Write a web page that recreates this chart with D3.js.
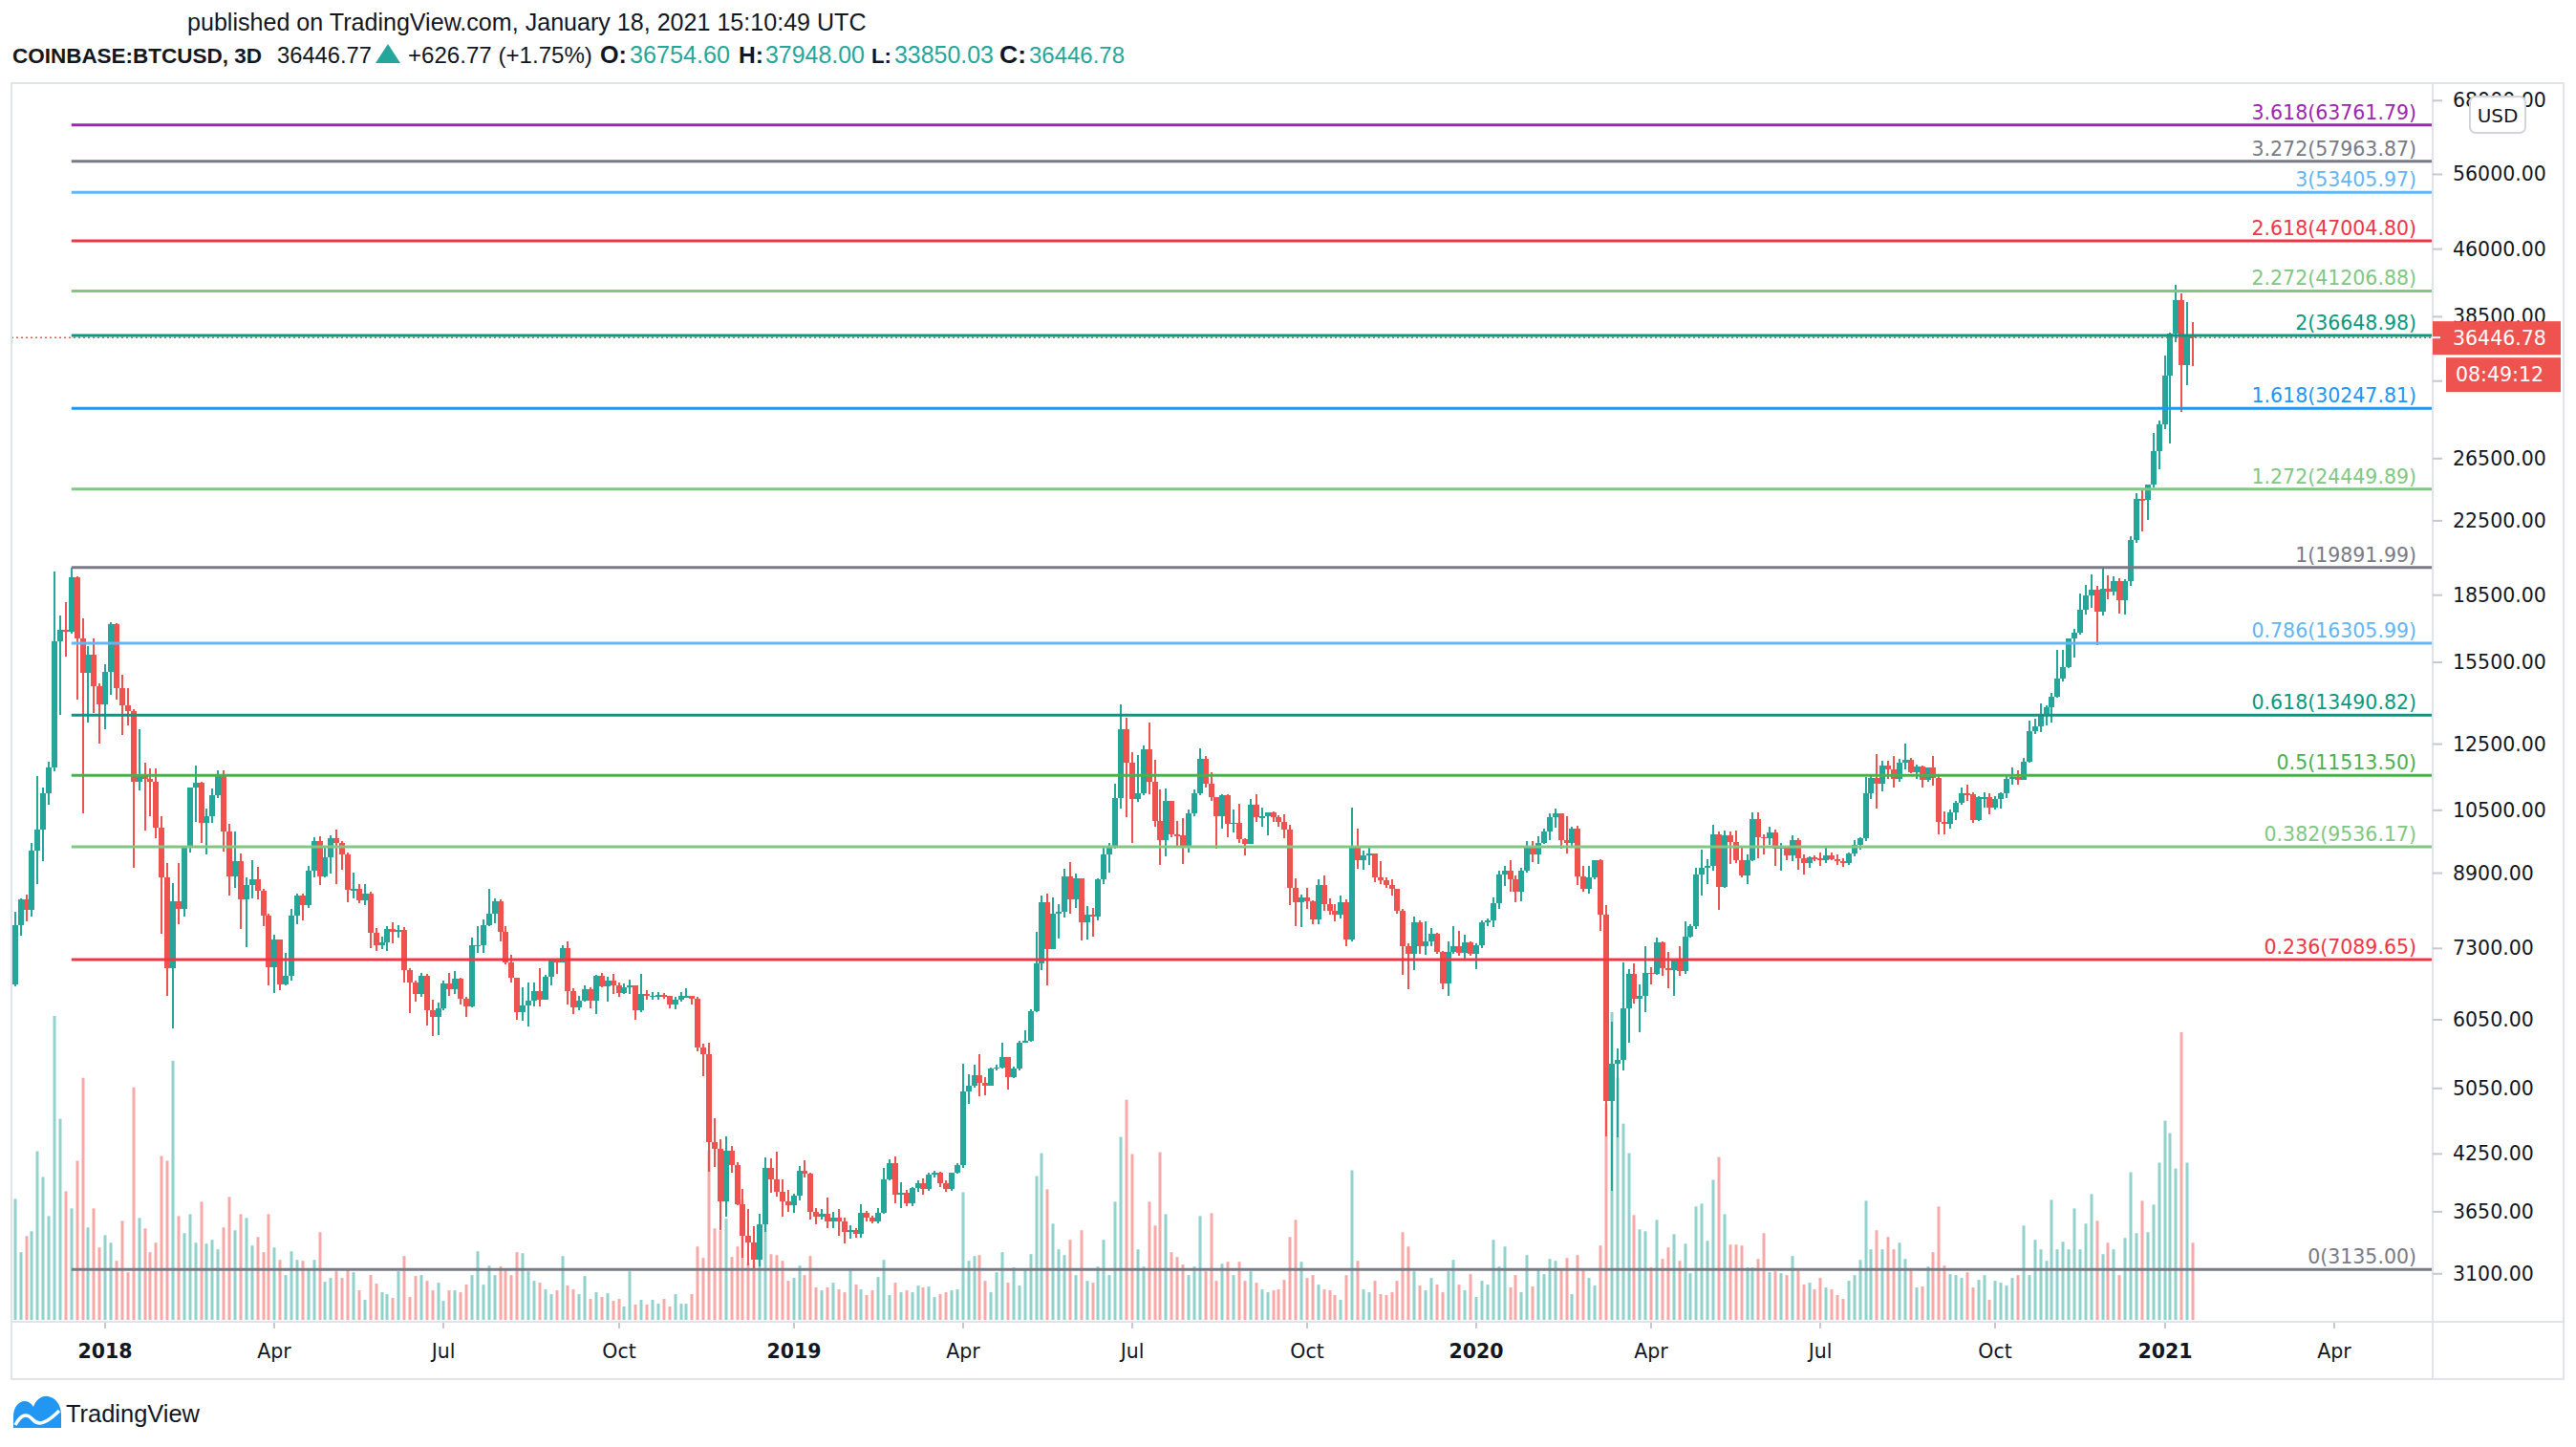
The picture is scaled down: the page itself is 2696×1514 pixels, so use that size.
<!DOCTYPE html>
<html><head><meta charset="utf-8">
<script src="https://cdn.jsdelivr.net/npm/d3@7/dist/d3.min.js"></script>
<style>html,body{margin:0;padding:0;background:#fff;}svg{display:block}</style>
</head><body>
<svg id="c" width="2696" height="1514"></svg>
<script>
// ---------------- DATA (COINBASE:BTCUSD, 3D bars) ----------------
const firstBarDate = "2017-11-15";   // start of first 3-day bar
const barDays = 3;

const opens = [6640,7760,8315,8070,9450,9975,10970,11750,16390,16900,
16780,19385,16490,15080,15820,14570,13890,15120,17140,14480,
13830,13630,11330,11560,11410,11330,10020,8800,6930,8270,
8100,9510,11145,11290,10170,10330,10930,11500,9930,8820,
9190,8300,8630,8760,8490,7960,6950,7480,6640,6800,
7950,8390,8190,8950,9680,8820,9270,9760,9630,9350,
8510,8530,8280,8430,7610,7370,7420,7676,7630,7656,
6895,6668,6473,6790,6209,6096,6236,6655,6557,6733,
6400,6273,7361,7370,7760,8000,8270,7626,7042,6752,
6178,6290,6369,6523,6382,6779,7089,7042,7305,6529,
6256,6369,6557,6369,6790,6612,6712,6626,6491,6584,
6620,6209,6473,6437,6448,6455,6437,6304,6382,6437,
6440,6390,5624,5530,4380,4310,3750,4290,4130,3720,
3430,3370,3220,3530,4100,3970,3845,3755,3716,3812,
4070,4030,3645,3604,3634,3555,3598,3560,3460,3482,
3445,3640,3596,3560,3640,3970,4150,3822,3838,3730,
3883,3932,3877,4025,4040,3935,3880,4040,4130,5013,
5089,5232,5130,5090,5320,5340,5485,5200,5320,5700,
5725,6190,7012,8245,7295,8000,8040,8830,8315,8790,
7825,7973,7935,8750,9356,9550,10840,12990,11900,10810,
10990,12330,11330,10210,9705,10770,9852,9830,9530,10420,
10975,12030,11265,10860,10350,10920,10130,10170,9740,9620,
10650,10300,10330,10440,10300,10180,9990,8560,8240,8340,
8270,7870,8620,8205,8060,7975,8250,7470,9530,9200,
9330,9370,8810,8740,8620,8530,8050,7350,7190,7810,
7335,7445,7580,7230,6650,7240,7350,7220,7420,7200,
7370,7810,7860,8220,8860,8965,8760,8480,8950,9530,
9360,9630,9940,10300,10420,9700,9630,10010,8830,8540,
8810,9200,7970,4890,5384,5450,6230,6820,6390,6450,
6850,6820,7420,6930,6900,7070,6870,7535,7745,8860,
9036,9070,9850,8580,9840,9670,9210,8840,9210,10250,
9790,9750,9910,9490,9530,9320,9710,9250,9140,9270,
9250,9210,9330,9240,9180,9150,9380,9575,9754,10977,
11425,11251,11820,11699,11402,11905,12002,11603,11784,11379,
11759,11425,10183,10131,10447,10720,10977,10943,10236,10865,
10870,10588,10831,10988,11402,11460,11379,11942,12937,13099,
13480,13785,14175,14864,15325,16505,16758,17822,18471,18760,
17731,18798,18665,19190,18250,19190,21374,23834,23760,24755,
27013,28967,33001,36836,40230,33929,36754.60];

const highs = [8030,8330,8410,9640,11500,11150,11940,19700,17530,18170,
19891.99,19450,17410,16160,16490,14680,15420,17220,17200,14990,
14500,13700,13010,11910,11730,11710,10330,9150,8680,9150,
9550,11160,11810,11330,10550,11110,11680,11680,10140,9930,
9370,8800,9200,9050,8540,8000,7560,7480,7210,8100,
8440,8440,9060,9790,9810,9550,9830,9975,9680,9390,
8910,8650,8650,8480,7700,7530,7740,7820,7770,7720,
6925,6700,6850,6820,6380,6330,6700,6838,6870,6760,
6420,7510,7740,7880,8540,8330,8300,7740,7170,6760,
6584,6668,6668,6925,6810,7100,7110,7370,7440,6570,
6440,6630,6584,6810,6850,6780,6830,6668,6660,6720,
6620,6830,6540,6500,6510,6490,6448,6430,6510,6570,
6450,6420,5680,5700,4670,4420,4450,4340,4160,3880,
3680,3510,3630,4210,4200,4276,3970,3870,3830,4120,
4180,4040,3690,3680,3790,3650,3678,3590,3520,3500,
3725,3660,3610,3690,4096,4190,4220,3940,3870,3900,
3960,3980,4040,4070,4060,3960,4050,4150,5385,5240,
5380,5520,5200,5330,5380,5700,5490,5350,5720,5880,
6220,7620,8400,8430,8350,8200,9000,9160,8880,8790,
8160,8130,8790,9510,9630,11270,13880,13400,12230,12130,
12440,13230,12000,11090,11115,10770,10220,10290,10530,11090,
12370,12100,11620,10860,10950,10950,10510,10680,9760,10810,
10950,10580,10440,10480,10370,10390,10100,8770,8410,8570,
8290,8750,8850,8330,8200,8390,8300,10567,10000,9450,
9530,9380,9183,8800,8760,8540,8100,7400,7930,7860,
7830,7700,7600,7250,7440,7735,7650,7565,7440,7400,
7850,7890,8340,8960,9070,9210,8840,9030,9680,9680,
9800,10010,10420,10560,10430,10340,10050,10080,9060,9060,
9210,9230,8180,6020,5610,7040,6920,7010,6640,7340,
6950,7510,7430,7230,7080,7340,7830,7780,9020,9470,
9230,10110,9930,9950,9940,9960,9560,9360,10440,10440,
9860,10050,9980,9630,9560,9820,9760,9350,9300,9330,
9400,9520,9400,9350,9250,9400,9700,9774,11460,11496,
12187,11977,11977,12126,12027,12505,12064,11856,11820,11759,
12126,11520,10469,10534,10776,11136,11228,11000,10887,11000,
10988,10887,11022,11520,11759,11675,12064,13302,13370,13928,
13857,14293,16002,16002,16505,16932,18570,19014,19548,18957,
19811,19500,19447,19350,19290,21608,24175,24378,24755,28348,
29325,34739,36946,41876,40940,40030,37948.00];

const lows = [6600,7540,7830,7930,8650,9190,10650,11650,13510,15720,
16700,14045,10420,13240,13560,12520,12990,14230,14050,12800,
13130,9030,11070,9960,10330,9760,7580,6440,5910,7790,
7930,9390,10190,9640,9350,10170,10850,9430,8390,8560,
7690,7330,8330,8310,7740,6620,6490,6540,6620,6700,
7790,7850,8130,8800,8630,8800,8890,8650,8990,8240,
8320,8220,8190,7300,7260,7280,7260,7400,7510,6680,
6160,6350,6420,5955,5800,5807,6200,6450,6473,6304,
6096,6250,7220,7210,7740,7800,7440,7000,6668,6050,
6030,5940,6273,6260,6380,6620,6820,7030,6304,6140,
6209,6350,6236,6140,6590,6350,6473,6420,6473,6480,
6055,6178,6382,6382,6382,6390,6236,6219,6340,6420,
6304,5568,5220,4060,4110,3480,3600,4050,3710,3230,
3170,3135,3160,3460,3840,3800,3600,3650,3640,3760,
3990,3580,3530,3580,3500,3500,3430,3360,3400,3410,
3410,3560,3540,3540,3630,3960,3730,3690,3700,3700,
3850,3820,3860,3990,3900,3850,3860,4030,4100,4850,
5060,4950,4960,5080,5290,5320,5040,5190,5300,5690,
5710,6180,6900,6630,7290,7490,7920,8000,8130,7460,
7470,7530,7850,8650,8920,9500,10560,10300,9630,10740,
10940,10950,10050,9090,9300,9780,9520,9110,9400,10330,
10930,11160,10750,9500,10000,9770,9900,9630,9330,9600,
10180,10060,9830,10180,10050,9760,8180,7740,7720,8090,
7790,7780,8060,7980,7840,7900,7350,7440,9000,8990,
9100,8700,8640,8560,8400,7990,6810,6560,6890,7190,
7180,7340,7190,6560,6450,7190,7160,7090,7160,6920,
7300,7750,7730,8100,8600,8480,8250,8270,8920,9160,
9110,9610,9720,10030,9500,9380,9550,8620,8480,8440,
8750,7650,4450,3860,4445,5300,5690,6310,5860,6170,
6640,6810,6800,6580,6440,6800,6820,7510,7680,8400,
8640,8960,8080,8560,9120,9150,8800,8640,9190,9250,
9340,9580,9060,8960,9200,9180,8990,8860,9030,9180,
9060,9150,9200,9100,9050,9100,9300,9477,9674,10830,
10555,11034,11402,11136,11309,11699,11579,11402,11136,11309,
11193,9845,9845,10007,10236,10643,10776,10162,10204,10588,
10394,10534,10555,10854,11228,11228,11379,11905,12831,12897,
13139,13234,14117,14743,15278,15679,16672,17585,17914,16200,
17549,18320,18471,17640,17585,18957,21254,21885,22572,24580,
25792,28671,27575,36011,29993,32164,33850.03];

const closes = [7760,8315,8070,9450,9975,10970,11750,16390,16900,16780,
19385,16490,15080,15820,14570,13890,15120,17140,14480,13830,
13630,11330,11560,11410,11330,10020,8800,6930,8270,8100,
9510,11145,11290,10170,10330,10930,11500,9930,8820,9190,
8300,8630,8760,8490,7960,6950,7480,6640,6800,7950,
8390,8190,8950,9680,8820,9270,9760,9630,9350,8510,
8530,8280,8430,7610,7370,7420,7676,7630,7656,6895,
6668,6473,6790,6209,6096,6236,6655,6557,6733,6400,
6273,7361,7370,7760,8000,8270,7626,7042,6752,6178,
6290,6369,6523,6382,6779,7089,7042,7305,6529,6256,
6369,6557,6369,6790,6612,6712,6626,6491,6584,6620,
6209,6473,6437,6448,6455,6437,6304,6382,6437,6440,
6390,5624,5530,4380,4310,3750,4290,4130,3720,3430,
3370,3220,3530,4100,3970,3845,3755,3716,3812,4070,
4030,3645,3604,3634,3555,3598,3560,3460,3482,3445,
3640,3596,3560,3640,3970,4150,3822,3838,3730,3883,
3932,3877,4025,4040,3935,3880,4040,4130,5013,5089,
5232,5130,5090,5320,5340,5485,5200,5320,5700,5725,
6190,7012,8245,7295,8000,8040,8830,8315,8790,7825,
7973,7935,8750,9356,9550,10840,12990,11900,10810,10990,
12330,11330,10210,9705,10770,9852,9830,9530,10420,10975,
12030,11265,10860,10350,10920,10130,10170,9740,9620,10650,
10300,10330,10440,10300,10180,9990,8560,8240,8340,8270,
7870,8620,8205,8060,7975,8250,7470,9530,9200,9330,
9370,8810,8740,8620,8530,8050,7350,7190,7810,7335,
7445,7580,7230,6650,7240,7350,7220,7420,7200,7370,
7810,7860,8220,8860,8965,8760,8480,8950,9530,9360,
9630,9940,10300,10420,9700,9630,10010,8830,8540,8810,
9200,7970,4890,5384,5450,6230,6820,6390,6450,6850,
6820,7420,6930,6900,7070,6870,7535,7745,8860,9036,
9070,9850,8580,9840,9670,9210,8840,9210,10250,9790,
9750,9910,9490,9530,9320,9710,9250,9140,9270,9250,
9210,9330,9240,9180,9150,9380,9575,9754,10977,11425,
11251,11820,11699,11402,11905,12002,11603,11784,11379,11759,
11425,10183,10131,10447,10720,10977,10943,10236,10865,10870,
10588,10831,10988,11402,11460,11379,11942,12937,13099,13480,
13785,14175,14864,15325,16505,16758,17822,18471,18760,17731,
18798,18665,19190,18250,19190,21374,23834,23760,24755,27013,
28967,33001,36836,40230,33929,36754.60,36446.78];

// relative volume per bar (no axis in the original)
const volumes = [127,71,88,93,177,150,109,319,211,135,117,167,254,97,117,76,89,81,62,104,50,244,107,96,71,81,172,167,272,109,91,111,81,124,80,84,74,97,129,94,111,107,78,87,71,111,76,63,47,72,63,62,54,63,92,40,44,51,44,54,50,31,21,47,
38,29,27,23,51,67,24,46,47,41,31,39,20,31,31,29,37,47,72,37,57,47,56,52,47,71,70,51,41,39,32,27,31,67,36,32,27,46,22,29,24,28,20,22,14,51,16,21,16,21,17,22,14,27,17,
17,27,77,65,178,96,94,106,66,77,126,60,62,74,101,69,68,62,
41,44,57,47,67,34,31,34,39,32,29,54,37,32,26,31,45,63,26,39,29,31,29,36,34,35,24,27,29,31,32,
134,62,67,68,41,29,50,71,39,55,36,52,69,151,175,137,101,
74,68,84,47,94,41,39,56,84,47,124,192,231,174,74,56,124,99,176,111,71,66,58,47,56,109,51,112,41,59,61,47,61,41,51,39,32,29,31,32,42,87,105,61,44,47,37,32,31,26,21,47,157,
62,32,29,41,27,26,29,41,92,77,51,36,31,44,37,29,51,63,37,31,48,24,41,37,84,56,77,34,47,29,
68,35,54,48,64,62,52,65,27,68,54,44,36,78,227,323,254,206,175,110,95,93,55,105,64,76,90,62,80,49,119,122,83,147,171,111,79,79,78,55,55,64,91,50,51,
49,47,67,52,37,39,32,44,34,32,26,22,41,47,63,125,
74,94,74,87,74,81,64,52,34,35,56,71,
119,
57,48,47,44,50,34,42,47,21,41,39,36,44,47,99,47,84,74,62,126,74,82,74,117,74,101,132,104,69,81,74,47,86,155,91,125,92,121,165,209,196,159,
302,165,81];

// Fibonacci extension drawn from the Dec-2017 high bar
const fibAnchorBar = 10;
const fibRatios = ["0","0.236","0.382","0.5","0.618","0.786","1","1.272","1.618","2","2.272","2.618","3","3.272","3.618"];
const fibPrices = [3135.00,7089.65,9536.17,11513.50,13490.82,16305.99,19891.99,24449.89,30247.81,36648.98,41206.88,47004.80,53405.97,57963.87,63761.79];
const fibColors = ["#787b86","#f23645","#81c784","#4caf50","#089981","#64b5f6","#787b86","#81c784","#2196f3","#089981","#81c784","#f23645","#64b5f6","#787b86","#9c27b0"];

// price-axis ticks; the 32500 tick's label sits under the countdown box in the original
const priceTicks = [3100,3650,4250,5050,6050,7300,8900,10500,12500,15500,18500,22500,26500,32500,38500,46000,56000,68000];
const hiddenPriceLabels = [32500];
const timeTickDates = ["2018-01-01","2018-04-01","2018-07-01","2018-10-01","2019-01-01","2019-04-01","2019-07-01","2019-10-01","2020-01-01","2020-04-01","2020-07-01","2020-10-01","2021-01-01","2021-04-01"];
const timeTickLabels = ["2018","Apr","Jul","Oct","2019","Apr","Jul","Oct","2020","Apr","Jul","Oct","2021","Apr"];

const header = {
  published: "published on TradingView.com, January 18, 2021 15:10:49 UTC",
  symbol: "COINBASE:BTCUSD, 3D",
  last: "36446.77", change: "+626.77 (+1.75%)",
  o: "36754.60", h: "37948.00", l: "33850.03", c: "36446.78",
  countdown: "08:49:12", currency: "USD"
};

// ---------------- LAYOUT ----------------
const GREEN = "#26a69a", RED = "#ef5350";
const VGREEN = "rgba(38,166,154,0.5)", VRED = "rgba(239,83,80,0.5)";
const pane = {l: 12, t: 87, r: 2546, b: 1383};
const frame = {r: 2683, b: 1443};
const AX = "DejaVu Sans, Verdana, sans-serif";
const HF = "Liberation Sans, Arial, sans-serif";

const svg = d3.select("#c");
const n = closes.length;

const x = d3.scaleLinear().domain([-0.63, 428.5]).range([pane.l, pane.r]);
const y = d3.scaleLog().domain([2732, 71200]).range([pane.b, pane.t]);
const volBase = 1381;
const yv = d3.scaleLinear().domain([0, d3.max(volumes)]).range([volBase, volBase - 322]);

const bars = d3.range(n).map(i => ({i, o: opens[i], h: highs[i], l: lows[i], c: closes[i], v: volumes[i], up: closes[i] >= opens[i]}));

svg.append("defs").append("clipPath").attr("id", "pc")
  .append("rect").attr("x", pane.l).attr("y", pane.t).attr("width", pane.r - pane.l).attr("height", pane.b - pane.t);
const plot = svg.append("g").attr("clip-path", "url(#pc)");

// volume
plot.append("g").selectAll("rect").data(bars).join("rect")
  .attr("x", d => Math.round(x(d.i)) - 1.5).attr("width", 3)
  .attr("y", d => yv(d.v)).attr("height", d => volBase - yv(d.v))
  .attr("fill", d => d.up ? VGREEN : VRED);

// candles
const cg = plot.append("g").attr("shape-rendering", "crispEdges");
cg.selectAll("rect.w").data(bars).join("rect").attr("class", "w")
  .attr("x", d => Math.round(x(d.i)) - 1).attr("width", 2)
  .attr("y", d => y(d.h)).attr("height", d => Math.max(1, y(d.l) - y(d.h)))
  .attr("fill", d => d.up ? GREEN : RED);
cg.selectAll("rect.b").data(bars).join("rect").attr("class", "b")
  .attr("x", d => Math.round(x(d.i)) - 3).attr("width", 6)
  .attr("y", d => y(Math.max(d.o, d.c)))
  .attr("height", d => Math.max(1.5, y(Math.min(d.o, d.c)) - y(Math.max(d.o, d.c))))
  .attr("fill", d => d.up ? GREEN : RED);

// last price dotted line
const lastY = y(closes[n - 1]);
plot.append("line").attr("x1", pane.l).attr("x2", pane.r).attr("y1", lastY).attr("y2", lastY)
  .attr("stroke", RED).attr("stroke-width", 1.5).attr("stroke-dasharray", "2,3");

// fib levels
const fg = plot.append("g");
fibPrices.forEach((p, k) => {
  const yy = y(p);
  fg.append("line").attr("x1", x(fibAnchorBar)).attr("x2", pane.r).attr("y1", yy).attr("y2", yy)
    .attr("stroke", fibColors[k]).attr("stroke-width", 3);
  fg.append("text").attr("x", 2529).attr("y", yy - 6).attr("text-anchor", "end")
    .attr("font-family", AX).attr("font-size", 20.5).attr("fill", fibColors[k])
    .text(`${fibRatios[k]}(${p.toFixed(2)})`);
});

// frame
const fr = svg.append("g").attr("stroke", "#e0e3eb").attr("stroke-width", 2).attr("fill", "none");
fr.append("rect").attr("x", pane.l).attr("y", pane.t).attr("width", frame.r - pane.l).attr("height", frame.b - pane.t);
fr.append("line").attr("x1", pane.r).attr("x2", pane.r).attr("y1", pane.t).attr("y2", frame.b);
fr.append("line").attr("x1", pane.l).attr("x2", frame.r).attr("y1", pane.b).attr("y2", pane.b);

// price axis
const pa = svg.append("g");
priceTicks.forEach(t => {
  const yy = y(t);
  pa.append("line").attr("x1", pane.r).attr("x2", pane.r + 10).attr("y1", yy).attr("y2", yy)
    .attr("stroke", "#c5c8d0").attr("stroke-width", 2);
  if (hiddenPriceLabels.includes(t)) return;
  pa.append("text").attr("x", 2567).attr("y", yy).attr("dominant-baseline", "central")
    .attr("font-family", AX).attr("font-size", 20.5).attr("fill", "#131722").text(t.toFixed(2));
});

// last price label + countdown
pa.append("rect").attr("x", pane.r).attr("y", lastY - 17).attr("width", 134).attr("height", 35).attr("fill", RED);
pa.append("line").attr("x1", pane.r).attr("x2", pane.r + 8).attr("y1", lastY).attr("y2", lastY).attr("stroke", "#fff").attr("stroke-width", 2);
pa.append("text").attr("x", 2567).attr("y", lastY + 1).attr("dominant-baseline", "central")
  .attr("font-family", AX).attr("font-size", 20.5).attr("fill", "#fff").text(closes[n - 1].toFixed(2));
pa.append("rect").attr("x", 2560).attr("y", lastY + 21).attr("width", 120).attr("height", 36).attr("fill", RED);
pa.append("text").attr("x", 2570).attr("y", lastY + 39).attr("dominant-baseline", "central")
  .attr("font-family", AX).attr("font-size", 20.5).attr("fill", "#fff").text(header.countdown);

// currency badge (covers the middle of the 68000 label, as in the original)
pa.append("rect").attr("x", 2585).attr("y", 101).attr("width", 58).attr("height", 38).attr("rx", 6)
  .attr("fill", "#fff").attr("stroke", "#d1d4dc").attr("stroke-width", 2);
pa.append("text").attr("x", 2614).attr("y", 121).attr("text-anchor", "middle").attr("dominant-baseline", "central")
  .attr("font-family", AX).attr("font-size", 20).attr("fill", "#131722").text(header.currency);

// time axis
const t0 = Date.parse(firstBarDate + "T00:00:00Z");
const ta = svg.append("g");
timeTickDates.forEach((d, k) => {
  const idx = Math.ceil((Date.parse(d + "T00:00:00Z") - t0) / (barDays * 86400000));
  const xx = Math.round(x(idx));
  ta.append("line").attr("x1", xx).attr("x2", xx).attr("y1", pane.b + 1).attr("y2", pane.b + 7)
    .attr("stroke", "#c5c8d0").attr("stroke-width", 2);
  const lab = timeTickLabels[k];
  ta.append("text").attr("x", xx).attr("y", 1421).attr("text-anchor", "middle")
    .attr("font-family", AX).attr("font-size", 20.5).attr("fill", "#131722")
    .attr("font-weight", /^\d{4}$/.test(lab) ? "bold" : "normal").text(lab);
});

// header: each segment's font size is fitted to its width in the original
function seg(txt, x0, w, yy, opt) {
  const base = opt.size || 25;
  const t = svg.append("text").attr("x", x0).attr("y", yy).attr("font-family", HF)
    .attr("font-size", base).attr("fill", opt.fill || "#131722")
    .attr("font-weight", opt.bold ? "bold" : "normal").text(txt);
  const nat = t.node().getComputedTextLength();
  if (nat > 0) t.attr("font-size", Math.min(base * 1.15, base * w / nat));
  return t;
}
seg(header.published, 196, 711, 32, {size: 24});
const Y2 = 66;
seg(header.symbol, 13, 261, Y2, {bold: true});
seg(header.last, 290, 99, Y2, {});
svg.append("path").attr("d", "M393,66 L406,46 L419,66 Z").attr("fill", GREEN);
seg(header.change, 427, 193, Y2, {});
seg("O:", 628, 28, Y2, {bold: true}); seg(header.o, 659, 105, Y2, {fill: GREEN});
seg("H:", 773, 26, Y2, {bold: true}); seg(header.h, 801, 104, Y2, {fill: GREEN});
seg("L:", 912, 21, Y2, {bold: true}); seg(header.l, 936, 104, Y2, {fill: GREEN});
seg("C:", 1046, 28, Y2, {bold: true}); seg(header.c, 1077, 100, Y2, {fill: GREEN});

// TradingView logo
const lg = svg.append("g");
lg.append("path").attr("d", "M14,1494 L14,1482 C14,1472 20,1466 26,1466 C30,1466 33,1469 35,1472 C38,1464 44,1460 50,1461 C58,1462 64,1470 64,1480 L64,1494 Z").attr("fill", "#2196f3");
lg.append("path").attr("d", "M16,1491 C22,1480 28,1478 34,1485 C40,1492 48,1490 62,1476").attr("fill", "none").attr("stroke", "#fff").attr("stroke-width", 3.5);
seg("TradingView", 69, 140, 1488, {size: 26});
</script>
</body></html>
